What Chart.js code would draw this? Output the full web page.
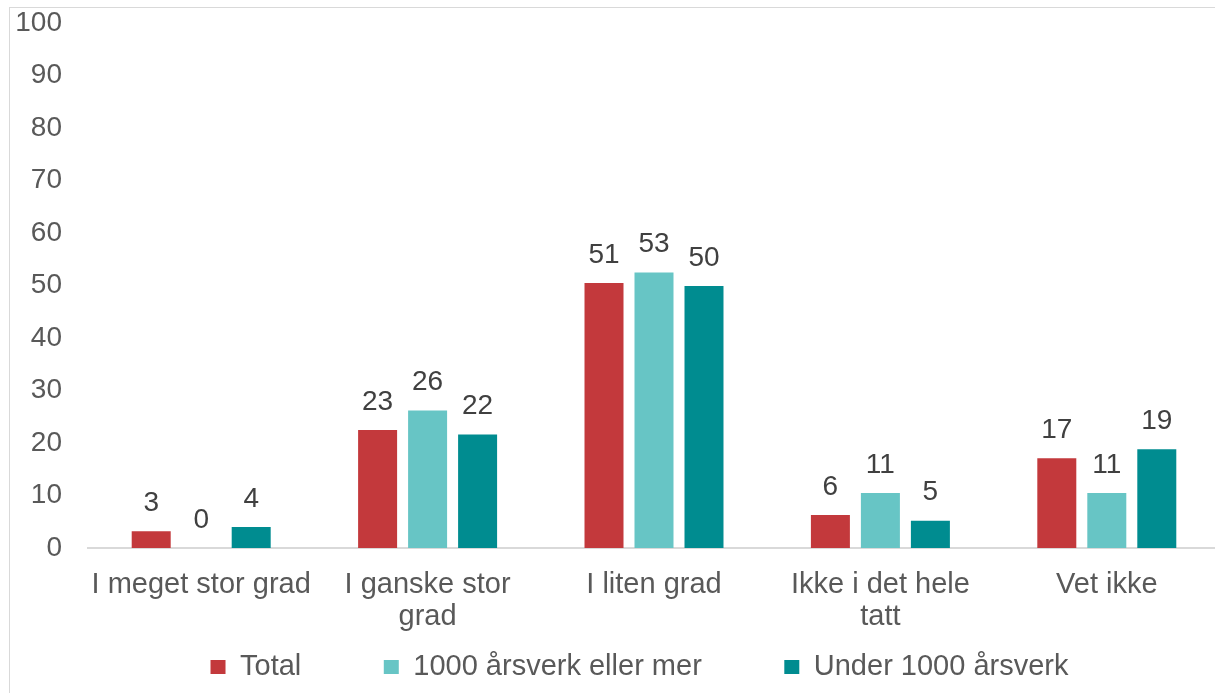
<!DOCTYPE html>
<html>
<head>
<meta charset="utf-8">
<script src="https://cdn.jsdelivr.net/npm/chart.js@4/dist/chart.umd.min.js"></script>
<style>
  html, body { margin: 0; padding: 0; background: #fff; overflow: hidden; }
  #wrap { position: absolute; left: 0; top: 0; width: 1270px; height: 693px; }
  #frame { position: absolute; left: 9px; top: 7px; width: 1300px; height: 800px;
           border-left: 1.5px solid #d9d9d9; border-top: 1.5px solid #d9d9d9; pointer-events: none; }
</style>
</head>
<body>
<div id="wrap"><canvas id="chart"></canvas></div>
<div id="frame"></div>
<script>
// categories (multi-line ones as arrays)
const categories = [
  "I meget stor grad",
  ["I ganske stor", "grad"],
  "I liten grad",
  ["Ikke i det hele", "tatt"],
  "Vet ikke"
];
const seriesNames = ["Total", "1000 årsverk eller mer", "Under 1000 årsverk"];
const total = [3.2, 22.5, 50.5, 6.3, 17.1];
const large = [0, 26.2, 52.5, 10.5, 10.5];
const small = [4.0, 21.6, 49.9, 5.2, 18.8];
const yTicks = [0, 10, 20, 30, 40, 50, 60, 70, 80, 90, 100];

const colors = ["#c3393c", "#67c5c5", "#008c90"];
const GAP = " ".repeat(9);
const FONT = "'Liberation Sans', Arial, sans-serif";

// value labels above the bars
const valueLabels = {
  id: "valueLabels",
  afterDatasetsDraw(chart) {
    const ctx = chart.ctx;
    ctx.save();
    ctx.font = "28px " + FONT;
    ctx.fillStyle = "#404040";
    ctx.textAlign = "center";
    ctx.textBaseline = "middle";
    chart.data.datasets.forEach((ds, i) => {
      chart.getDatasetMeta(i).data.forEach((bar, j) => {
        ctx.fillText(String(Math.round(ds.data[j])), bar.x, bar.y - 28);
      });
    });
    ctx.restore();
  }
};

new Chart(document.getElementById("chart"), {
  type: "bar",
  data: {
    labels: categories,
    datasets: [
      { label: seriesNames[0], data: total, backgroundColor: colors[0] },
      { label: seriesNames[1], data: large, backgroundColor: colors[1] },
      { label: seriesNames[2], data: small, backgroundColor: colors[2] }
    ]
  },
  plugins: [valueLabels],
  options: {
    responsive: true,
    maintainAspectRatio: false,
    animation: false,
    categoryPercentage: 0.6625,
    barPercentage: 0.78,
    layout: { padding: { left: 15, right: 6, top: 23, bottom: 1.5 } },
    plugins: {
      tooltip: { enabled: false },
      legend: {
        position: "bottom",
        labels: {
          boxWidth: 15,
          boxHeight: 14,
          padding: 10,
          color: "#595959",
          font: { family: FONT, size: 29 },
          generateLabels(chart) {
            const items = Chart.defaults.plugins.legend.labels.generateLabels(chart);
            items.forEach((it, i) => { if (i < items.length - 1) it.text += GAP; });
            return items;
          }
        }
      }
    },
    scales: {
      x: {
        grid: { display: false, drawTicks: false },
        border: { display: true, color: "#d9d9d9", width: 2 },
        ticks: {
          color: "#595959",
          padding: 21,
          maxRotation: 0,
          autoSkip: false,
          font: { family: FONT, size: 29, lineHeight: 1.1 }
        },
        afterFit(scale) { scale.height = 94.5; }
      },
      y: {
        min: 0,
        max: 100,
        afterBuildTicks(scale) { scale.ticks = yTicks.map(v => ({ value: v })); },
        grid: { display: false, drawTicks: false },
        border: { display: false },
        ticks: {
          color: "#595959",
          padding: 26,
          font: { family: FONT, size: 28 }
        },
        afterFit(scale) {
          scale.width = 73;
          scale.paddingTop = 0;
          scale.paddingBottom = 0;
        }
      },
      // empty right axis, only reserves room so the plot runs past the window edge
      yRight: {
        type: "linear",
        position: "right",
        grid: { display: false, drawTicks: false },
        border: { display: false },
        ticks: { display: false },
        afterFit(scale) {
          scale.width = 44;
          scale.paddingTop = 0;
          scale.paddingBottom = 0;
        }
      }
    }
  }
});
</script>
</body>
</html>
